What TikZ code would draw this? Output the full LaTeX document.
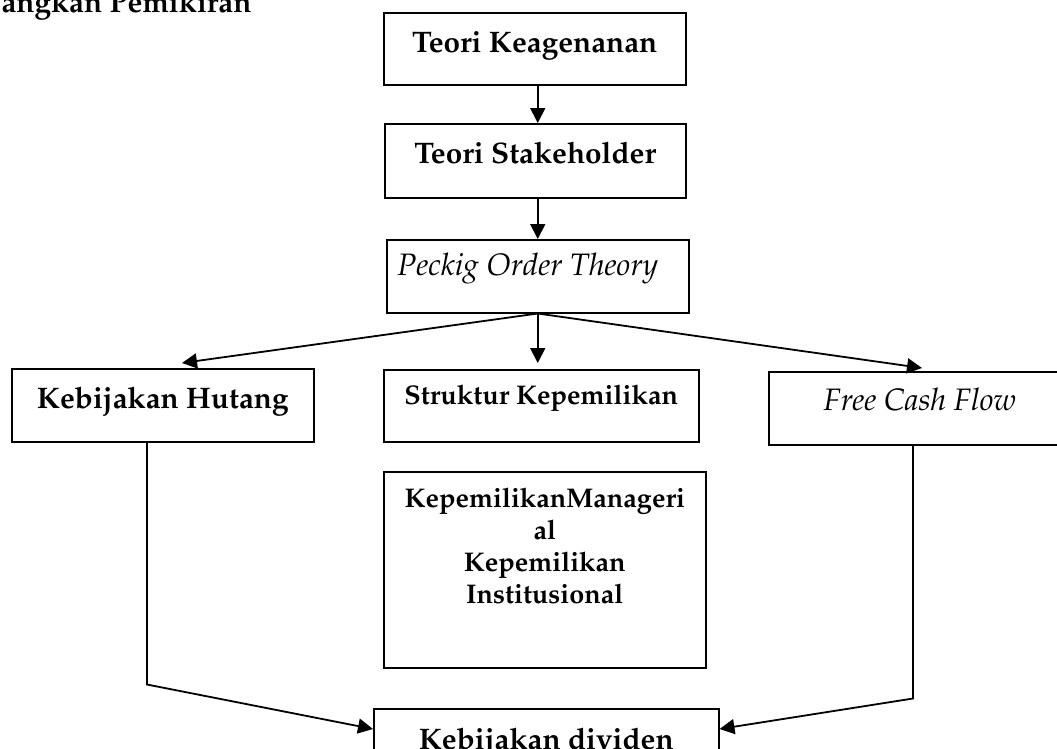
\documentclass[tikz,border=0pt]{standalone}
\usepackage[T1]{fontenc}
\usepackage{mathpazo}
\usetikzlibrary{arrows.meta,calc}
\tikzset{
  box/.style={draw, line width=1.5pt, inner sep=0pt, anchor=north west},
  big/.style={font=\fontsize{29.7}{32}\selectfont\bfseries},
  ital/.style={font=\fontsize{31}{32}\selectfont\itshape},
  conn/.style={line width=1.8pt, -{Triangle[length=15pt,width=15pt]}},
}
\begin{document}
\begin{tikzpicture}[x=1pt,y=-1pt]
\useasboundingbox (0,0) rectangle (1057,748);
\clip (0,0) rectangle (1057,748);
\node[anchor=base west, big] (title) at (-2,12) {angkan Pemikiran};
\node[box, big, minimum width=302pt, text height=40pt, text depth=32pt] (tk) at (383,12) {Teori Keagenanan};
\node[box, big, minimum width=301pt, text height=40pt, text depth=34pt] (ts) at (384,123) {Teori Stakeholder};
\node[box, ital, minimum width=302pt, text height=36pt, text depth=37pt] (poc) at (386,239) {Peckig Order Theory\hspace*{20pt}};
\node[box, big, minimum width=302pt, text height=40pt, text depth=33pt] (hutang) at (11,368) {Kebijakan Hutang};
\node[box, font=\fontsize{27}{30}\selectfont\bfseries, minimum width=315pt, text height=35pt, text depth=37pt] (struktur) at (383,369) {Struktur Kepemilikan};
\node[box, ital, minimum width=302pt, text height=39pt, text depth=34pt] (fcf) at (768,371) {Free Cash Flow};
\node[box, font=\fontsize{27}{32}\selectfont\bfseries, minimum width=322pt, text height=36pt, text depth=160pt] (kep) at (383,471) {\begin{tabular}[t]{@{}c@{}}KepemilikanManageri\\al\\Kepemilikan\\Institusional\end{tabular}};
\node[box, big, minimum width=345pt, text height=41pt, text depth=40pt] (div) at (373,708) {Kebijakan dividen};
% connectors
\draw[conn] (tk.south -| poc.south) -- (ts.north -| poc.south);
\draw[conn] (ts.south -| poc.south) -- (poc.north);
\draw[conn, shorten >=6pt] (poc.south) -- (struktur.north -| poc.south);
\coordinate (hl) at ($(hutang.north west)+(171,-5)$);
\coordinate (fr) at ($(fcf.north west)+(154,-3)$);
\draw[conn] (poc.south) -- (hl);
\draw[conn] (poc.south) -- (fr);
\coordinate (hb) at ($(hutang.south west)+(136,0)$);
\coordinate (hc) at ($(hutang.south west)+(136,242)$);
\coordinate (dl) at ($(div.north west)+(0,21)$);
\draw[conn] (hb) -- (hc) -- (dl);
\coordinate (fb) at ($(fcf.south west)+(145,0)$);
\coordinate (fc) at ($(fcf.south west)+(145,253)$);
\coordinate (dr) at ($(div.north east)+(0,21)$);
\draw[conn] (fb) -- (fc) -- (dr);
\end{tikzpicture}
\end{document}
